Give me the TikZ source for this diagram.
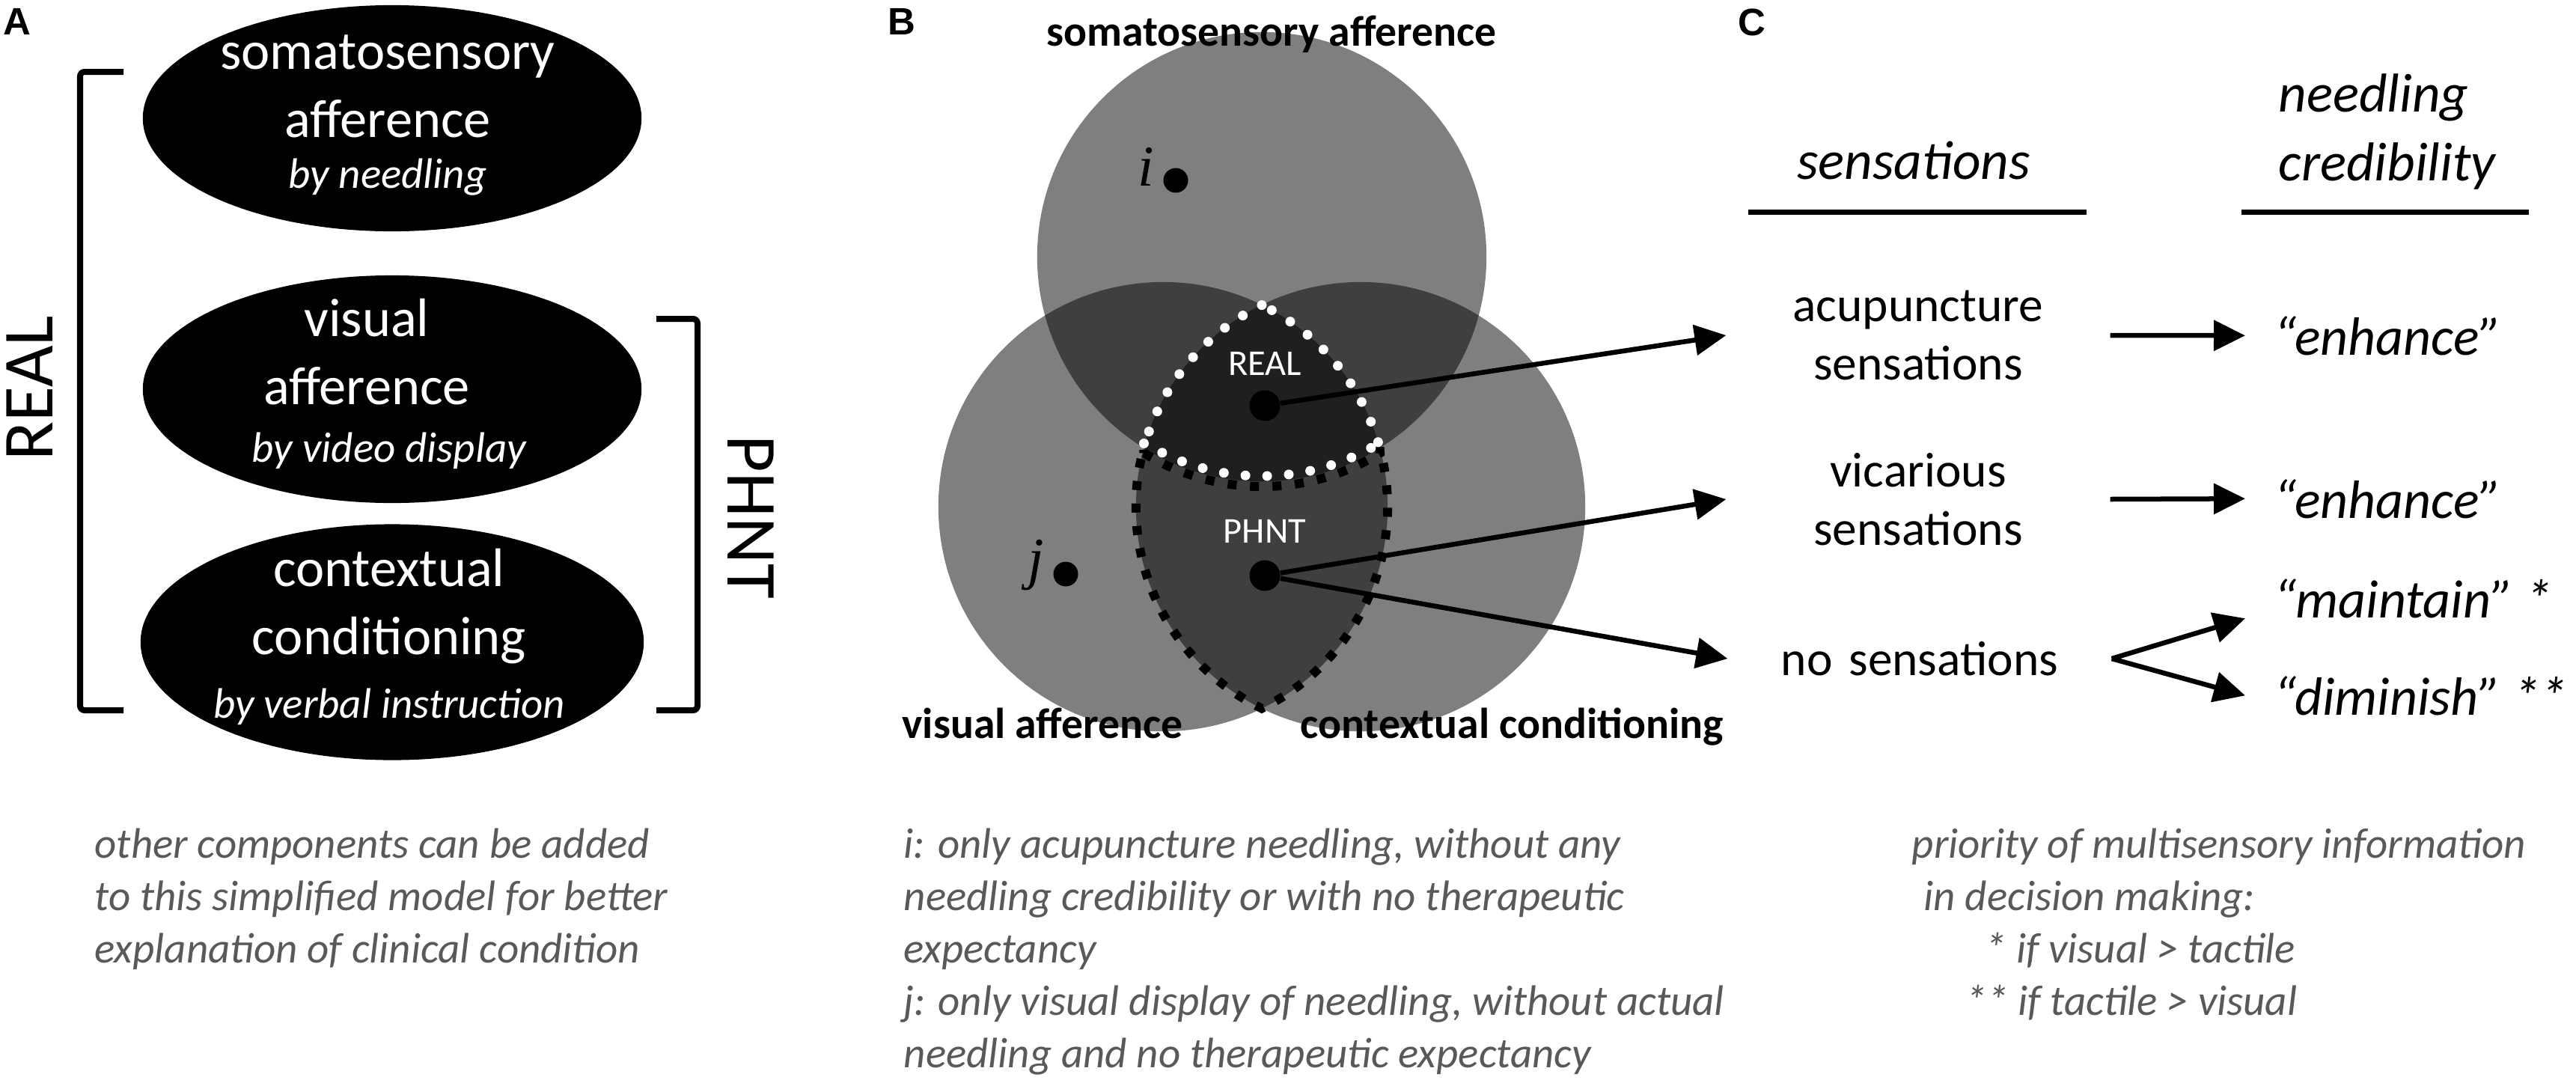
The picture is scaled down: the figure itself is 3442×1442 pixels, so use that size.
\documentclass[tikz,border=0pt]{standalone}
\usepackage{fontspec}
\setmainfont{Carlito}
\newfontfamily\panelfont{Liberation Sans}
\newfontfamily\letterfont{Liberation Serif}
\usepackage{tikz}
\usetikzlibrary{arrows.meta, shapes.geometric}
\definecolor{notegray}{RGB}{89, 89, 89}

\begin{document}
\begin{tikzpicture}[
    x=0.01cm, y=-0.01cm,
    panel/.style={anchor=north west, inner sep=0pt, font=\panelfont\bfseries\fontsize{14.5}{16}\selectfont},
    blob/.style={ellipse, fill=black, inner sep=0pt},
    blobtext/.style={align=center, inner sep=0pt, text=white, font=\fontsize{20.6}{25.8}\selectfont},
    bracket/.style={line width=0.08cm, rounded corners=0.06cm},
    sidelabel/.style={inner sep=0pt, font=\fontsize{27.3}{32}\selectfont},
    venn/.style={circle, fill=black, fill opacity=0.5, minimum size=6cm, inner sep=0pt},
    vennlabel/.style={anchor=base, inner sep=0pt, font=\bfseries\fontsize{16.4}{20}\selectfont},
    inlabel/.style={inner sep=0pt, text=white, font=\fontsize{13.8}{16}\selectfont},
    bigdot/.style={circle, fill=black, minimum size=0.41cm, inner sep=0pt},
    smalldot/.style={circle, fill=black, minimum size=0.33cm, inner sep=0pt},
    letterlabel/.style={anchor=base, inner sep=0pt, font=\letterfont\itshape\fontsize{22}{26}\selectfont},
    realline/.style={white, line width=0.13cm, line cap=round, dash pattern=on 0pt off 0.29cm},
    phntline/.style={black, line width=0.12cm, dash pattern=on 0.12cm off 0.18cm},
    colhead/.style={inner sep=0pt, font=\itshape\fontsize{20.8}{26.2}\selectfont},
    headrule/.style={line width=0.07cm},
    sens/.style={text width=4cm, align=center, inner sep=0pt, outer xsep=0.565cm, font=\fontsize{18.6}{22.2}\selectfont},
    verdict/.style={anchor=base west, inner sep=0pt, outer xsep=0.38cm, font=\itshape\fontsize{20.5}{25}\selectfont},
    arrow/.style={-{Triangle[length=0.42cm, width=0.4cm]}, line width=0.065cm},
    note/.style={anchor=north west, align=left, inner sep=0pt, text=notegray, font=\itshape\fontsize{16.2}{19.9}\selectfont}
]
    \useasboundingbox (0,0) rectangle (3442,1442);

    % Panel A
    \node[panel] (panA) at (4,11) {A};
    \node[blob, minimum width=6.66cm, minimum height=3.02cm] (soma) at (524,158) {};
    \node[blob, minimum width=6.66cm, minimum height=3.04cm] (visu) at (524,520) {};
    \node[blob, minimum width=6.72cm, minimum height=3.15cm] (cont) at (524,858) {};
    \node[blobtext] (somatext) at (518,154) {somatosensory\\afference\\[-6.3pt]{\itshape\fontsize{16.2}{20}\selectfont by needling}};
    \node[blobtext] (visutext) at (520,513) {visual\kern0.6cm\\afference\kern0.6cm\\[-4pt]{\itshape\fontsize{16.2}{20}\selectfont by video display}};
    \node[blobtext] (conttext) at (520,851) {contextual\\conditioning\\[-1.4pt]{\itshape\fontsize{16.2}{20}\selectfont by verbal instruction}};

    \draw[bracket] (165,96) -- (107,96) -- (107,949) -- (165,949);
    \node[sidelabel, rotate=90] (reallab) at (40,519) {REAL};
    \draw[bracket] (877,426) -- (932,426) -- (932,949) -- (877,949);
    \node[sidelabel, rotate=-90] (phntlab) at (1003,691) {PHNT};

    % Panel B
    \node[panel] (panB) at (1186,11) {B};
    \node[venn] (somacirc) at (1686,343) {};
    \node[venn] (visucirc) at (1554,677) {};
    \node[venn] (contcirc) at (1818,677) {};

    % outlines of the two regions
    \draw[phntline] (1528.5,605.3) arc[start angle=238.3, end angle=301.7, radius=3cm] -- (1843.5,598.3)
        arc[start angle=15.2, end angle=-63.9, radius=3cm] arc[start angle=243.9, end angle=164.8, radius=3cm] -- cycle;
    \draw[realline] (1686,407.6) arc[start angle=116.1, end angle=164.8, radius=3cm] -- (1528.5,591.3)
        arc[start angle=238.3, end angle=301.7, radius=3cm] -- (1843.5,598.3)
        arc[start angle=15.2, end angle=63.9, radius=3cm] -- cycle;

    \node[bigdot] (realdot) at (1690,542) {};
    \node[inlabel] (reallabel) at (1690,486) {REAL};
    \node[bigdot] (phntdot) at (1690,769) {};
    \node[inlabel] (phntlabel) at (1690,710) {PHNT};
    \node[smalldot] (idot) at (1571,241) {};
    \node[letterlabel] (ilabel) at (1531,248) {i};
    \node[smalldot] (jdot) at (1424,767) {};
    \node[letterlabel] (jlabel) at (1384,772) {j};

    \node[vennlabel] (somalabel) at (1699,61) {somatosensory afference};
    \node[vennlabel] (visulabel) at (1393,986) {visual afference};
    \node[vennlabel] (contlabel) at (2020,986) {contextual conditioning};

    % Panel C
    \node[panel] (panC) at (2322,11) {C};
    \node[colhead, anchor=base] (senshead) at (2557,239) {sensations};
    \node[colhead, anchor=south west, align=left] (credhead) at (3044,254) {needling\\credibility};
    \draw[headrule] (2336,283) -- (2788,283);
    \draw[headrule] (2995,283) -- (3379,283);

    \node[sens] (acu) at (2563,448) {acupuncture\\sensations};
    \node[sens] (vic) at (2563,667) {vicarious\\sensations};
    \node[sens] (nosens) at (2565,880) {no sensations};
    \node[verdict] (enh1) at (3000,474) {“enhance”};
    \node[verdict] (enh2) at (3000,692) {“enhance”};
    \node[verdict] (maint) at (3000,825) {“maintain” *};
    \node[verdict] (dimin) at (3000,955) {“diminish” **};

    % Arrows
    \draw[arrow] (realdot) -- (acu.west);
    \draw[arrow] (phntdot) -- (vic.west);
    \draw[arrow] (phntdot) -- (nosens.west);
    \draw[arrow] (acu.east) -- (enh1.west);
    \draw[arrow] (vic.east) -- (enh2.west);
    \draw[arrow] (nosens.east) -- (maint.south west);
    \draw[arrow] (nosens.east) -- (dimin.west);

    % Notes
    \node[note] (noteA) at (126,1106) {other components can be added\\to this simplified model for better\\explanation of clinical condition};
    \node[note] (noteB) at (1207,1106) {i: only acupuncture needling, without any\\needling credibility or with no therapeutic\\expectancy\\j: only visual display of needling, without actual\\needling and no therapeutic expectancy};
    \node[note] (noteC) at (2554,1106) {priority of multisensory information\\\hspace*{0.16cm}in decision making:\\\hspace*{0.98cm}* if visual > tactile\\\hspace*{0.72cm}** if tactile > visual};
\end{tikzpicture}
\end{document}
